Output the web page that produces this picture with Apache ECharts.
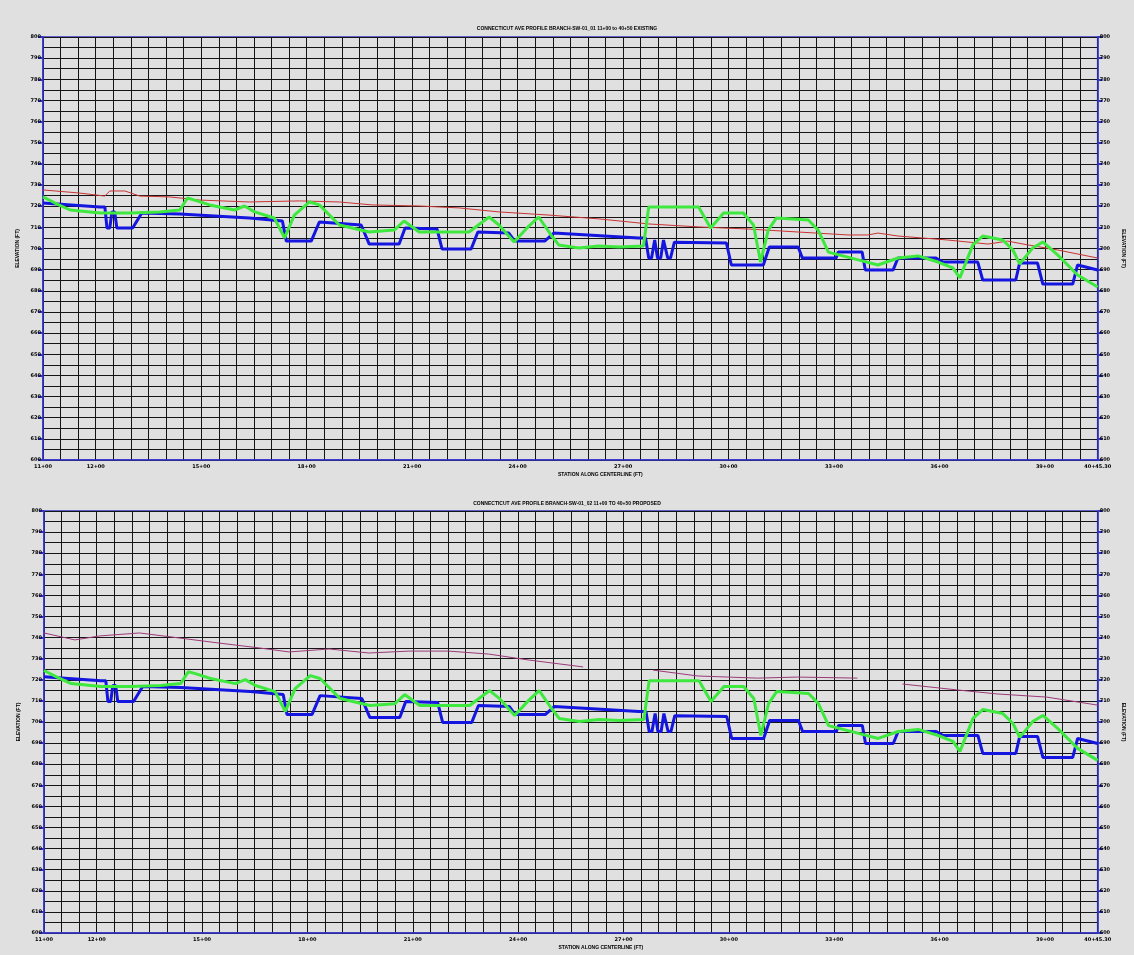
<!DOCTYPE html>
<html><head><meta charset="utf-8">
<script src="https://cdn.jsdelivr.net/npm/echarts@6/dist/echarts.min.js"></script>
<style>html,body{margin:0;padding:0;background:#e0e0e0}#c{width:1134px;height:955px}</style>
</head><body><div id="c"></div>
<script>
// Stations (ft) and elevations (ft)
const topTitle = 'CONNECTICUT AVE PROFILE BRANCH-SW-01_01 11+00 to 40+50 EXISTING';
const bottomTitle = 'CONNECTICUT AVE PROFILE BRANCH-SW-01_02 11+00 TO 40+50 PROPOSED';
const xName = 'STATION ALONG CENTERLINE (FT)';
const yName = 'ELEVATION (FT)';

const blueStation = [1050,1212,1226,1232,1240,1246,1254,1260,1305,1331,1439,1637,1731,1742,1813,1836,1955,1978,2063,2080,2171,2185,2268,2287,2375,2392,2477,2503,2744,2764,2773,2781,2790,2798,2807,2815,2827,2835,2846,2994,3008,3099,3116,3198,3210,3306,3312,3380,3389,3468,3482,3590,3610,3709,3723,3817,3828,3879,3894,3979,3993,4050];
const blueElev = [721.5,719.6,719.6,709.7,709.7,717.3,717.3,709.7,709.7,716.8,716.3,714.4,713.0,703.5,703.5,712.5,711.1,702.1,702.1,709.7,709.2,699.8,699.8,707.8,707.3,703.5,703.5,707.3,705.0,705.0,695.5,695.5,704.0,695.5,695.5,704.0,695.5,695.5,703.0,702.6,692.2,692.2,700.7,700.7,695.5,695.5,698.3,698.3,689.8,689.8,695.5,695.5,693.6,693.6,685.1,685.1,693.1,693.1,683.2,683.2,692.2,689.8];

const greenStation = [1050,1084,1127,1212,1297,1382,1439,1461,1481,1524,1595,1623,1652,1708,1737,1765,1808,1836,1893,1978,2049,2077,2120,2262,2319,2347,2390,2432,2460,2495,2517,2574,2631,2688,2758,2773,2915,2949,2986,3042,3071,3091,3113,3136,3227,3255,3284,3369,3425,3482,3539,3596,3638,3658,3695,3723,3780,3809,3828,3865,3894,3936,3993,4050];
const greenElev = [724.4,721.5,718.2,716.8,716.8,717.3,718.2,723.9,722.9,720.6,718.2,720.1,717.3,714.4,705.0,715.8,722.0,720.6,711.1,707.8,708.7,713.0,707.8,707.8,714.9,711.1,703.1,710.6,714.9,706.4,701.7,700.2,701.2,700.7,701.2,719.6,719.6,709.7,716.8,716.8,711.1,693.6,708.7,714.4,713.5,708.7,698.3,694.6,692.2,695.5,696.5,693.6,690.8,686.1,701.7,705.9,704.0,699.3,692.7,700.2,703.1,697.0,687.5,681.8];

const redStation = [1050,1155,1226,1240,1283,1325,1410,1496,1637,1779,1893,1986,2120,2233,2347,2489,2631,2773,2915,3056,3198,3340,3397,3425,3482,3624,3738,3794,3851,3936,4050];
const redElev = [727.7,726.2,724.8,727.2,727.2,724.8,724.4,722.9,722.0,722.5,722.0,720.6,720.1,719.2,717.3,715.8,714.0,711.6,710.2,709.2,707.8,706.4,706.4,707.3,705.9,704.0,702.1,703.5,701.7,699.3,695.5];

const purpleStation = [1050,1138,1209,1322,1436,1549,1663,1748,1862,1975,2089,2202,2316,2429,2585,2680,2784,2912,3082,3195,3366,3430,3494,3650,3763,3905,4050];
const purpleElev = [742.2,738.9,740.8,742.2,739.8,737.4,735.1,733.2,734.6,732.7,733.6,733.6,732.2,729.4,726.1,null,724.6,721.8,720.8,721.3,720.8,null,718.0,715.2,713.3,711.8,708.0];

const xMin = 1050, xMax = 4050, xStep = 50;
const yMin = 600, yMax = 800;

function pairs(xs, ys){ return xs.map((x,i)=>[x, ys[i]]); }
function stationLabel(v){
  const ft = Math.round(v);
  const h = Math.floor(ft/100), r = ft - h*100;
  return h + '+' + (r<10?'0':'') + r;
}

const axisBlue = '#3535c8';
const gridColor = '#151515';
const lblStyle = {fontSize:5, fontWeight:'bold', color:'#000', fontFamily:'DejaVu Sans'};

function xAxisFor(gi){
  return {
    gridIndex: gi, type:'value', min:xMin, max:xMax, interval:xStep,
    name: xName, nameLocation:'middle', nameGap: 12,
    nameTextStyle:{fontSize:5, fontWeight:'bold', color:'#000', padding:[0,0,0,60]},
    axisLine:{show:true, lineStyle:{color:axisBlue, width:1.5}},
    axisTick:{show:false},
    splitLine:{show:true, lineStyle:{color:gridColor, width:1}},
    axisLabel:{...lblStyle, margin:4, showMinLabel:true, showMaxLabel:true,
      formatter:(v)=>{
        if (v===xMin) return '11+00';
        if (v===xMax) return '40+45.30';
        return ((v-1200)%300===0) ? stationLabel(v) : '';
      }}
  };
}
function yAxisFor(gi, pos){
  return {
    gridIndex: gi, type:'value', min:yMin, max:yMax, interval:10, position:pos,
    name: yName, nameLocation:'middle', nameGap: pos==='left'?20:16, nameRotate: pos==='left'?90:-90,
    nameTextStyle:{fontSize:5, fontWeight:'bold', color:'#000'},
    axisLine:{show:true, lineStyle:{color:axisBlue, width:1.5}},
    axisTick:{show:true, length:5, lineStyle:{color:axisBlue, width:2}},
    splitLine:{show: pos==='left', lineStyle:{color:gridColor, width:1}},
    minorTick:{show:false, splitNumber:2},
    minorSplitLine:{show: pos==='left', lineStyle:{color:gridColor, width:1}},
    axisLabel:{...lblStyle, margin:2}
  };
}
function line(name, xi, yi, xs, ys, color, width){
  return {name, type:'line', xAxisIndex:xi, yAxisIndex:yi, data:pairs(xs,ys),
    symbol:'none', connectNulls:false, animation:false,
    lineStyle:{color, width}, z: width>2?3:2};
}

const chart = echarts.init(document.getElementById('c'), null, {renderer:'canvas'});
chart.setOption({
  backgroundColor:'#e0e0e0',
  animation:false,
  title:[
    {text: topTitle, left:'center', top:21, textStyle:{fontSize:5, fontWeight:'bold', color:'#000'}},
    {text: bottomTitle, left:'center', top:496, textStyle:{fontSize:5, fontWeight:'bold', color:'#000'}}
  ],
  grid:[
    {left:43, top:37, width:1057, height:423, show:true, backgroundColor:'#e0e0e0', borderColor:axisBlue, borderWidth:1.5},
    {left:44, top:511, width:1057, height:422, show:true, backgroundColor:'#e0e0e0', borderColor:axisBlue, borderWidth:1.5}
  ],
  xAxis:[xAxisFor(0), xAxisFor(1)],
  yAxis:[yAxisFor(0,'left'), yAxisFor(0,'right'), yAxisFor(1,'left'), yAxisFor(1,'right')],
  series:[
    line('Ground', 0, 0, redStation, redElev, '#c83232', 1),
    line('Invert', 0, 0, blueStation, blueElev, '#1515e0', 3),
    line('HGL', 0, 0, greenStation, greenElev, '#3ee83e', 3),
    line('Ground (Proposed)', 1, 2, purpleStation, purpleElev, '#9a3a78', 1),
    line('Invert', 1, 2, blueStation, blueElev, '#1515e0', 3),
    line('HGL', 1, 2, greenStation, greenElev, '#3ee83e', 3)
  ]
});
</script></body></html>
